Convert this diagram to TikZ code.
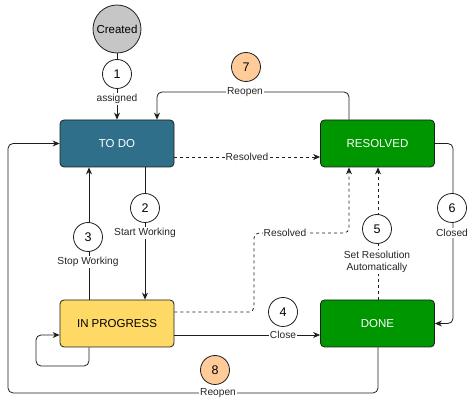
\documentclass[tikz,border=0pt]{standalone}
\usepackage{fontspec}
\setmainfont{Liberation Sans}
\usetikzlibrary{arrows.meta}
\definecolor{todoc}{RGB}{47,111,138}
\definecolor{greenc}{RGB}{0,150,0}
\definecolor{yellowc}{RGB}{255,217,102}
\definecolor{peachc}{RGB}{255,204,153}
\definecolor{grayc}{RGB}{198,198,198}
\definecolor{linec}{RGB}{30,30,30}
\begin{document}
\begin{tikzpicture}[x=1pt,y=-1pt,
  state/.style={draw=linec, line width=0.8pt, rounded corners=4pt, minimum width=114pt, minimum height=47pt, inner sep=0pt, font=\fontsize{11.5}{13}\selectfont},
  num/.style={circle, draw=linec, line width=0.8pt, fill=white, minimum size=29pt, inner sep=0pt, font=\fontsize{12.5}{14}\selectfont},
  lbl/.style={fill=white, inner sep=1pt, font=\fontsize{10.2}{11.5}\selectfont, text=black!85},
  edge/.style={draw=linec, line width=0.8pt, rounded corners=5pt},
  arr/.style={-{Stealth[length=7pt,width=6pt]}},
  dashedge/.style={dash pattern=on 3pt off 3pt}
]
\useasboundingbox (0,0) rectangle (467,398);

% states
\node[circle, draw=linec, line width=0.8pt, fill=grayc, minimum size=48pt, inner sep=0pt, font=\fontsize{11.5}{13}\selectfont] (created) at (117,29) {Created};
\node[state, fill=todoc, text=white] (todo) at (117,143.5) {TO DO};
\node[state, fill=greenc, text=white] (resolved) at (377.5,143.5) {RESOLVED};
\node[state, fill=yellowc] (inprog) at (117,323.5) {IN PROGRESS};
\node[state, fill=greenc, text=white] (done) at (377.5,323.5) {DONE};

% helper coordinates
\coordinate (r7a) at (349,92);
\coordinate (r7b) at (157,92);
\coordinate (c6) at (453,143.5);
\coordinate (l1) at (89,366);
\coordinate (l2) at (36,366);
\coordinate (l3) at (36,335);
\coordinate (p1) at (254,312);
\coordinate (p2) at (254,233);
\coordinate (p3) at (349,233);
\coordinate (e8a) at (378,393);
\coordinate (e8b) at (8,393);
\coordinate (e8c) at (8,143.5);
\coordinate (rs) at (0,157);

% 1 assigned
\draw[edge,arr] (created) -- (todo.north -| created);
% 7 reopen
\draw[edge,arr] (resolved.north -| r7a) -- (r7a) -- (r7b) -- (todo.north -| r7b);
% resolved dashed from todo
\draw[edge,arr,dashedge] (todo.east |- rs) -- (resolved.west |- rs);
% 2 start working
\draw[edge,arr] (todo.south -| 145,0) -- (inprog.north -| 145,0);
% 3 stop working
\draw[edge,arr] (inprog.north -| l1) -- (todo.south -| l1);
% self loop
\draw[edge,arr] (inprog.south -| l1) -- (l1) -- (l2) -- (l3) -- (inprog.west |- l3);
% 4 close
\draw[edge,arr] (inprog.east |- l3) -- (done.west |- l3);
% resolved dashed from in progress
\draw[edge,arr,dashedge] (inprog.east |- p1) -- (p1) -- (p2) -- (p3) -- (resolved.south -| p3);
% 5 set resolution
\draw[edge,arr,dashedge] (done.north -| 378,0) -- (resolved.south -| 378,0);
% 6 closed
\draw[edge,arr] (resolved.east) -- (c6) -- (c6 |- done.east) -- (done.east);
% 8 reopen
\draw[edge,arr] (done.south -| e8a) -- (e8a) -- (e8b) -- (e8c) -- (todo.west);

% labels
\node[num] (n1) at (117,74) {1};
\node[lbl] (t1) at (117,99) {assigned};
\node[num, fill=peachc] (n7) at (246,67) {7};
\node[lbl] (t7) at (245,92) {Reopen};
\node[lbl] (tres1) at (247,157) {Resolved};
\node[num] (n2) at (145,208) {2};
\node[lbl] (t2) at (145,233) {Start Working};
\node[num] (n3) at (88,237) {3};
\node[lbl] (t3) at (88,262) {Stop Working};
\node[num] (n4) at (283,312) {4};
\node[lbl] (t4) at (283,335) {Close};
\node[lbl] (tres2) at (285,233) {Resolved};
\node[num] (n5) at (377,229) {5};
\node[lbl, align=center] (t5) at (377,262) {Set Resolution\\Automatically};
\node[num] (n6) at (452,208) {6};
\node[lbl] (t6) at (452,233) {Closed};
\node[num, fill=peachc] (n8) at (215,370) {8};
\node[lbl] (t8) at (218,393) {Reopen};
\end{tikzpicture}
\end{document}
